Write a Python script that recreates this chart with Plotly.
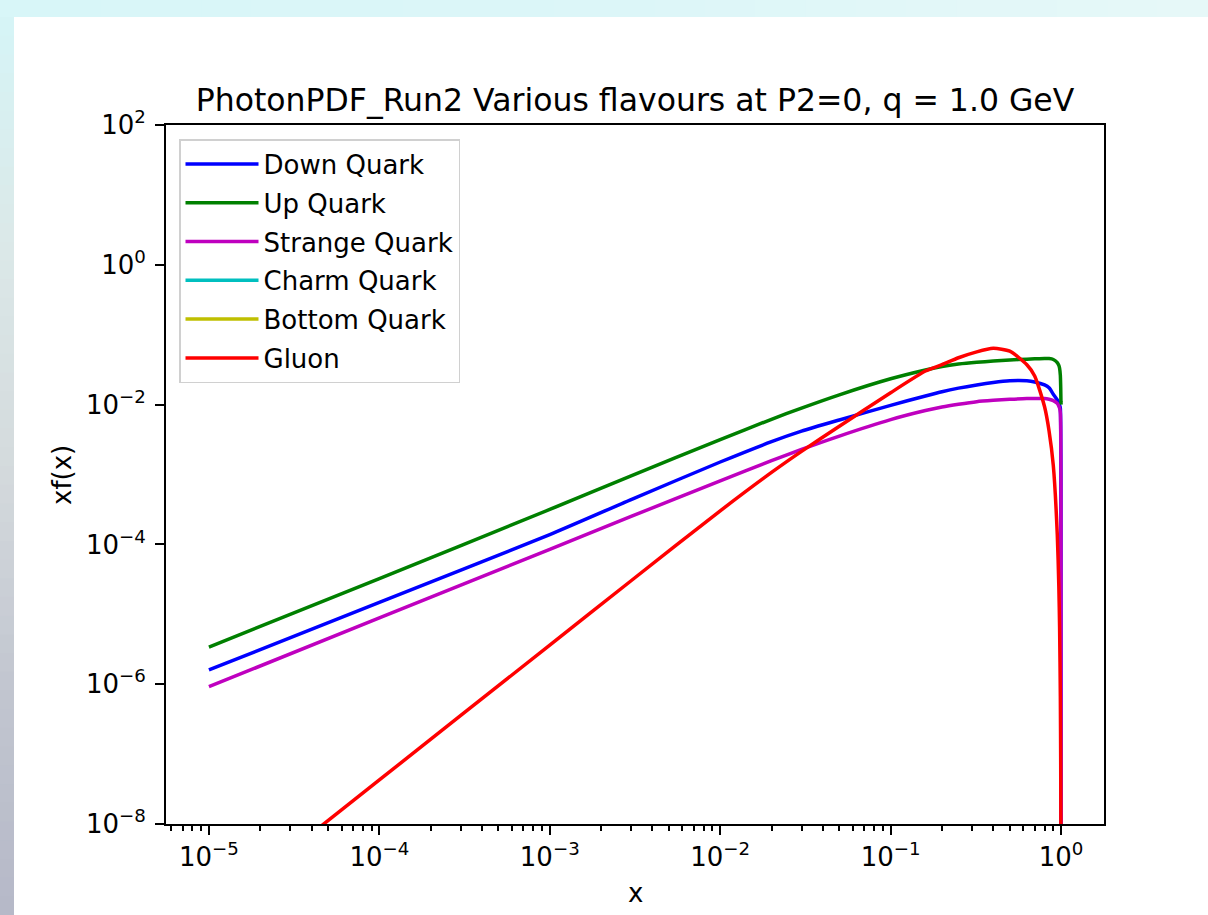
import plotly.graph_objects as go

# ---- data -------------------------------------------------------------
x_vals = [1e-5, 1e-4, 1e-3, 3e-3, 1e-2, 2e-2, 3e-2, 5e-2, 0.1, 0.16, 0.2, 0.25,
          0.32, 0.4, 0.5, 0.63, 0.7, 0.8, 0.85, 0.9, 0.95, 0.97, 0.98, 0.99,
          0.995, 0.998, 1.0]

down_xf = [1.60e-6, 1.48e-5, 1.38e-4, 4.37e-4, 1.51e-3, 2.95e-3, 4.17e-3, 6.03e-3,
           9.77e-3, 1.33e-2, 1.53e-2, 1.72e-2, 1.91e-2, 2.07e-2, 2.19e-2, 2.19e-2,
           2.11e-2, 1.91e-2, 1.74e-2, 1.41e-2, 1.17e-2, 1.05e-2, 9.8e-3, 8.9e-3,
           5.0e-3, 1.0e-3, 1e-12]

up_xf = [3.40e-6, 3.24e-5, 3.16e-4, 9.55e-4, 3.16e-3, 6.17e-3, 8.91e-3, 1.38e-2,
         2.34e-2, 3.13e-2, 3.51e-2, 3.80e-2, 4.03e-2, 4.19e-2, 4.35e-2, 4.47e-2,
         4.52e-2, 4.57e-2, 4.55e-2, 4.42e-2, 3.98e-2, 3.63e-2, 3.31e-2, 2.63e-2,
         1.78e-2, 1.12e-2, 1.0e-2]

strange_xf = [9.2e-7, 8.9e-6, 8.5e-5, 2.51e-4, 8.13e-4, 1.58e-3, 2.29e-3, 3.55e-3,
              6.10e-3, 8.22e-3, 9.23e-3, 1.01e-2, 1.10e-2, 1.15e-2, 1.19e-2, 1.22e-2,
              1.22e-2, 1.22e-2, 1.19e-2, 1.14e-2, 1.04e-2, 9.5e-3, 8.9e-3, 7.6e-3,
              4.0e-3, 3.2e-4, 1e-12]

charm_xf = [0.0] * 27
bottom_xf = [0.0] * 27

gluon_xf = [5.0e-10, 4.27e-8, 3.63e-6, 3.02e-5, 3.02e-4, 1.07e-3, 2.14e-3, 4.9e-3,
            1.48e-2, 3.02e-2, 3.72e-2, 4.68e-2, 5.69e-2, 6.38e-2, 5.82e-2, 3.72e-2,
            2.57e-2, 9.3e-3, 4.2e-3, 1.35e-3, 1.38e-4, 2.5e-5, 6.6e-6, 6.8e-7,
            6.9e-8, 3.4e-9, 1e-12]

series_names = ["Down Quark", "Up Quark", "Strange Quark", "Charm Quark",
                "Bottom Quark", "Gluon"]
series_values = [down_xf, up_xf, strange_xf, charm_xf, bottom_xf, gluon_xf]
series_colors = ["#0000ff", "#008000", "#bf00bf", "#00bfbf", "#bfbf00", "#ff0000"]

x_tickvals = [1e-5, 1e-4, 1e-3, 1e-2, 1e-1, 1e0]
x_ticktext = ["10<sup>−5</sup>", "10<sup>−4</sup>", "10<sup>−3</sup>",
              "10<sup>−2</sup>", "10<sup>−1</sup>", "10<sup>0</sup>"]
y_tickvals = [1e-8, 1e-6, 1e-4, 1e-2, 1e0, 1e2]
y_ticktext = ["10<sup>−8</sup>", "10<sup>−6</sup>", "10<sup>−4</sup>",
              "10<sup>−2</sup>", "10<sup>0</sup>", "10<sup>2</sup>"]

# ---- figure geometry (pixels) -----------------------------------------
W, H = 1208, 915
L, R, T, B = 166, 1104, 125, 824
PW, PH = R - L, B - T


def px_x(p):
    return (p - L) / PW


def px_y(p):
    return (B - p) / PH


def blend(c0, c1, t):
    a = [int(c0[i:i + 2], 16) for i in (1, 3, 5)]
    b = [int(c1[i:i + 2], 16) for i in (1, 3, 5)]
    return "#" + "".join(f"{round(u + (v - u) * t):02x}" for u, v in zip(a, b))


fig = go.Figure()
for name, ys, col in zip(series_names, series_values, series_colors):
    fig.add_trace(go.Scatter(
        x=x_vals, y=ys, mode="lines", name=name, legendgroup=name,
        line=dict(color=col, width=3.5, shape="spline", smoothing=0.6),
    ))

# window backdrop around the white figure canvas
shapes = []
top_stops = ["#d8f6f8", "#dcf6f8", "#e6f8f8"]
n_top = 24
for i in range(n_top):
    t = i / (n_top - 1)
    c = blend(top_stops[0], top_stops[1], t * 2) if t < 0.5 else \
        blend(top_stops[1], top_stops[2], (t - 0.5) * 2)
    shapes.append(dict(type="rect", xref="paper", yref="paper", layer="below",
                       x0=px_x(i * W / n_top), x1=px_x((i + 1) * W / n_top + 1),
                       y0=px_y(0), y1=px_y(17),
                       fillcolor=c, line=dict(width=0)))

side_stops = ["#d6f4f6", "#dbe8e8", "#d4dadd", "#c2c6d0", "#b6b9c8"]
n_side = 48
seg = (H - 17) / n_side
for i in range(n_side):
    t = i / (n_side - 1) * (len(side_stops) - 1)
    k = min(int(t), len(side_stops) - 2)
    c = blend(side_stops[k], side_stops[k + 1], t - k)
    shapes.append(dict(type="rect", xref="paper", yref="paper", layer="below",
                       x0=px_x(0), x1=px_x(14),
                       y0=px_y(17 + i * seg), y1=px_y(17 + (i + 1) * seg + 1),
                       fillcolor=c, line=dict(width=0)))

axis_common = dict(
    type="log", showline=True, linecolor="black", linewidth=2, mirror=True,
    ticks="outside", ticklen=9, tickwidth=2, tickcolor="black",
    showgrid=False, zeroline=False,
    tickfont=dict(family="DejaVu Sans", size=26, color="black"),
)

fig.update_xaxes(
    range=[-5.2518, 0.2518], tickvals=x_tickvals, ticktext=x_ticktext,
    minor=dict(ticks="outside", ticklen=5, tickwidth=1.5, tickcolor="black",
               dtick="D1", showgrid=False),
    **axis_common,
)
fig.update_yaxes(
    range=[-8, 2], tickvals=y_tickvals, ticktext=y_ticktext,
    ticklabelstandoff=4, **axis_common,
)

fig.update_layout(
    width=W, height=H,
    margin=dict(l=L, r=W - R, t=T, b=H - B, autoexpand=False),
    paper_bgcolor="white", plot_bgcolor="white",
    font=dict(family="DejaVu Sans", size=26, color="black"),
    title=dict(text="PhotonPDF_Run2 Various flavours at P2=0, q = 1.0 GeV",
               x=0.5, xref="paper", xanchor="center",
               y=1 - 100 / H, yref="container", yanchor="middle",
               font=dict(family="DejaVu Sans", size=31.5, color="black")),
    showlegend=True,
    legend=dict(x=px_x(179), y=px_y(139), xanchor="left", yanchor="top",
                bgcolor="white", bordercolor="#d0d0d0", borderwidth=1.5,
                font=dict(family="DejaVu Sans", size=26, color="black"),
                traceorder="grouped", tracegroupgap=2, itemwidth=73),
    shapes=shapes,
    annotations=[
        dict(text="x", xref="paper", yref="paper", x=0.5, y=px_y(893),
             xanchor="center", yanchor="middle", showarrow=False,
             font=dict(family="DejaVu Sans", size=26, color="black")),
        dict(text="xf(x)", xref="paper", yref="paper", x=px_x(62), y=px_y(475),
             xanchor="center", yanchor="middle", textangle=-90, showarrow=False,
             font=dict(family="DejaVu Sans", size=26, color="black")),
    ],
)

fig.write_html("out.html")
